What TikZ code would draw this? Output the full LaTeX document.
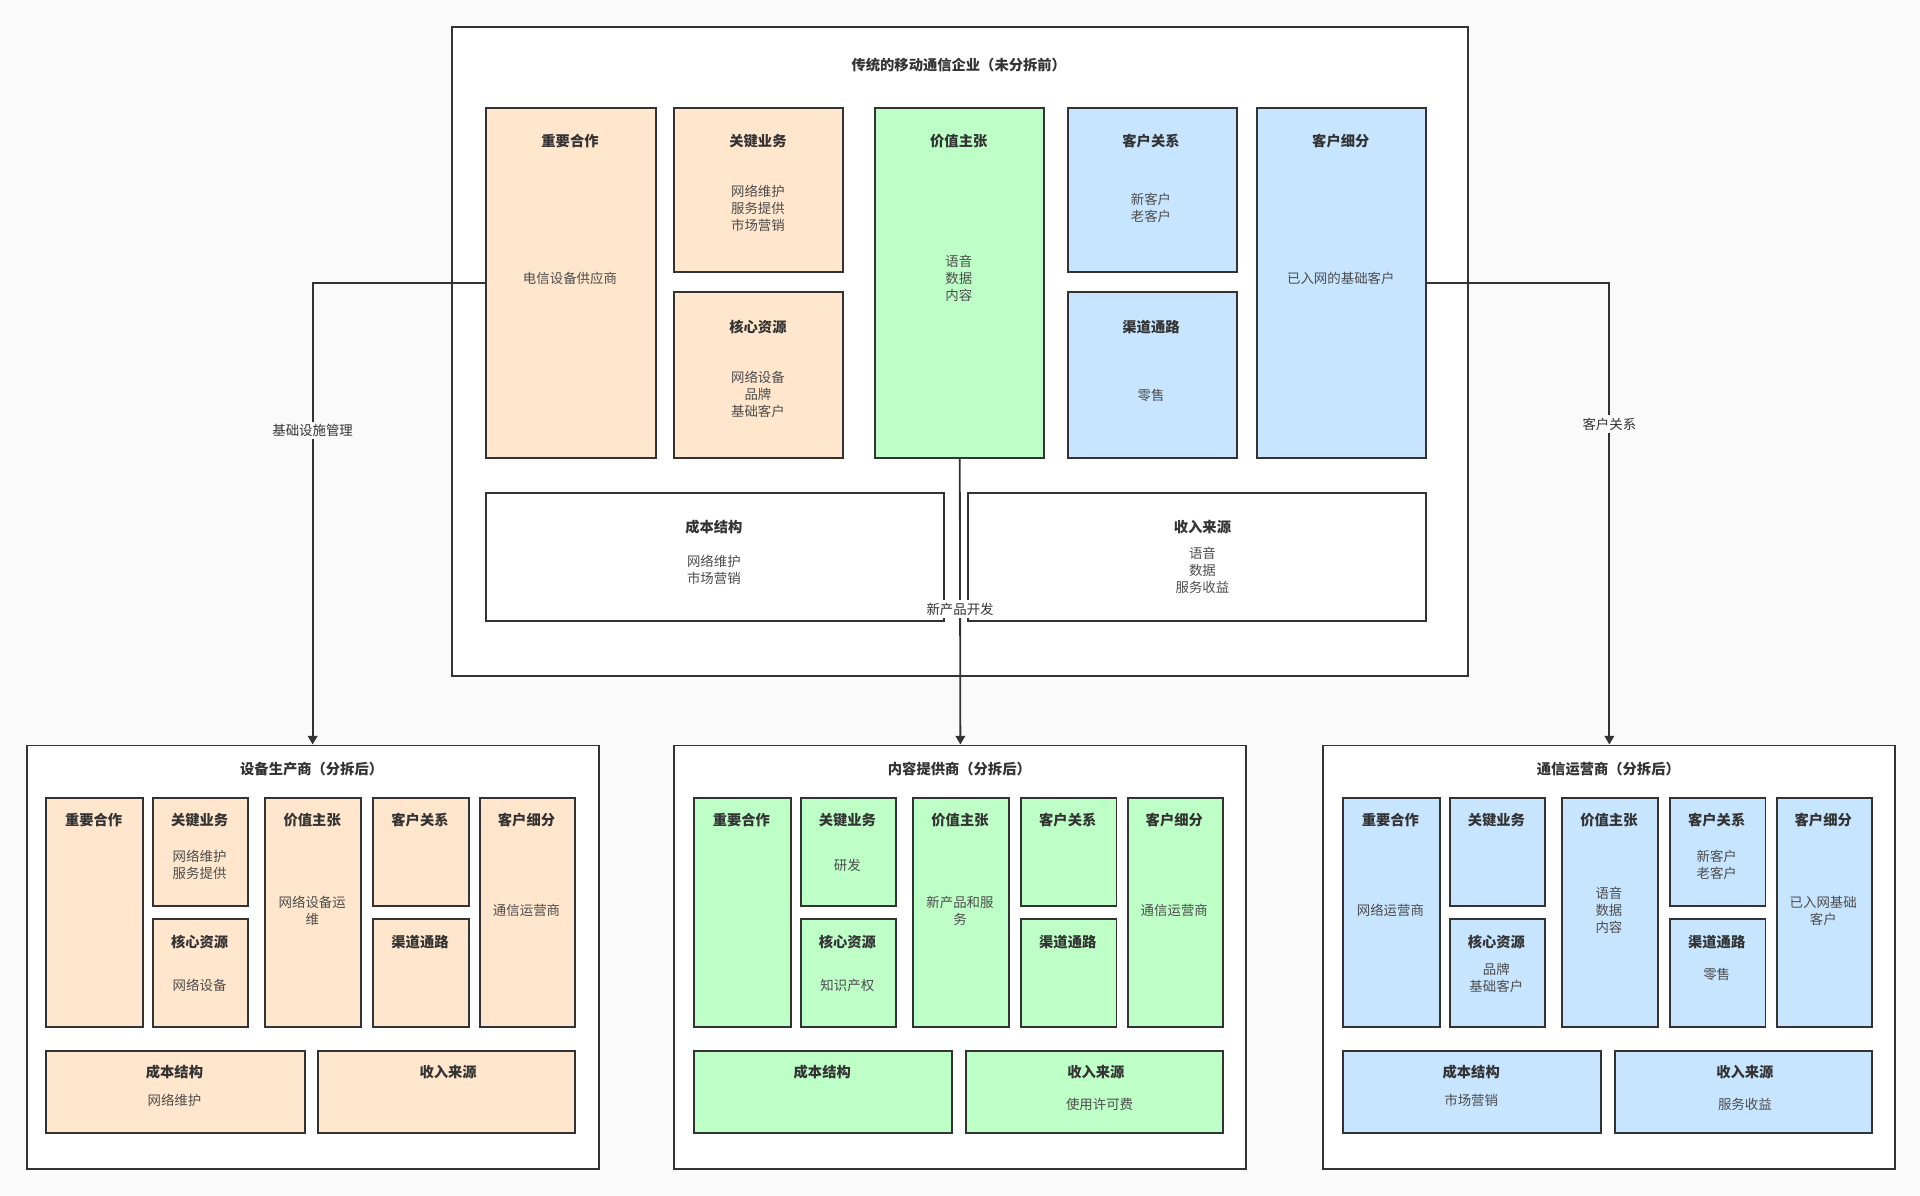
\documentclass[tikz,border=0pt]{standalone}
\usepackage{fontspec}
\setmainfont{Noto Sans CJK SC}
\usepackage{tikz}
\usetikzlibrary{arrows.meta}

\definecolor{orangefill}{HTML}{FFE6CC}
\definecolor{greenfill}{HTML}{BDFFC6}
\definecolor{bluefill}{HTML}{C7E5FF}
\definecolor{edge}{HTML}{333333}
\definecolor{paper}{HTML}{FAFAFA}
\definecolor{bodytext}{HTML}{4D4D4D}

% name, fill, x1, y1, x2, y2
\newcommand\bmcell[6]{%
  \node[cell, fill=#2, minimum width={((#5)-(#3))*0.025cm},
        minimum height={((#6)-(#4))*0.025cm}] (#1) at (#3,#4) {};}

\begin{document}
\begin{tikzpicture}[x=0.025cm, y=-0.025cm]
    \tikzstyle{cell} = [rectangle, draw=edge, line width=1.15pt, inner sep=0pt, anchor=north west]
    \tikzstyle{ttl} = [font=\fontsize{8.3}{10}\selectfont\bfseries, text=edge, inner sep=0pt]
    \tikzstyle{txt} = [font=\fontsize{7.8}{9.9}\selectfont, text=bodytext, align=center, inner sep=0pt]
    \tikzstyle{lbl} = [font=\fontsize{7.8}{9.9}\selectfont, text=edge, fill=paper, inner sep=1.5pt]
    \tikzstyle{link} = [draw=edge, line width=1.05pt, -{Triangle[length=5pt,width=5.5pt]}]

    \fill[paper] (0,0) rectangle (1568,976);
    \useasboundingbox (0,0) rectangle (1568,976);

    % before the split
    \bmcell{old}{white}{368}{21}{1198}{551}
    \node[ttl] at (783,53) {传统的移动通信企业（未分拆前）};
    \bmcell{tkp}{orangefill}{396}{87}{535}{373}
    \bmcell{tka}{orangefill}{550}{87}{688}{221}
    \bmcell{tkr}{orangefill}{550}{238}{688}{373}
    \bmcell{tvp}{greenfill}{714}{87}{852}{373}
    \bmcell{tcr}{bluefill}{871}{87}{1009}{221}
    \bmcell{tch}{bluefill}{871}{238}{1009}{373}
    \bmcell{tcs}{bluefill}{1026}{87}{1164}{373}
    \bmcell{tco}{white}{396}{402}{770}{506}
    \bmcell{tre}{white}{790}{402}{1164}{506}
    \foreach \x/\y/\t in {465.5/115/重要合作, 619/115/关键业务, 619/267/核心资源, 783/115/价值主张,
                          940/115/客户关系, 940/267/渠道通路, 1095/115/客户细分,
                          583/430.6/成本结构, 982/430.6/收入来源} {
        \node[ttl] at (\x,\y) {\t};
    }
    \node[txt] at (465.5,227.3) {电信设备供应商};
    \node[txt] at (619,170) {网络维护\\服务提供\\市场营销};
    \node[txt] at (619,322) {网络设备\\品牌\\基础客户};
    \node[txt] at (783,227.3) {语音\\数据\\内容};
    \node[txt] at (940,170) {新客户\\老客户};
    \node[txt] at (940,322.6) {零售};
    \node[txt] at (1095,227.3) {已入网的基础客户};
    \node[txt] at (583,465.5) {网络维护\\市场营销};
    \node[txt] at (982,465.5) {语音\\数据\\服务收益};

    % after the split
    \foreach \ox/\id/\fc/\ct in {21/eq/orangefill/设备生产商（分拆后）,
                                 550/cp/greenfill/内容提供商（分拆后）,
                                 1080/tc/bluefill/通信运营商（分拆后）} {
        \bmcell{\id}{white}{\ox}{608}{\ox+467}{954}
        \node[ttl] at (\ox+233.5,628) {\ct};
        \bmcell{\id kp}{\fc}{\ox+16}{651}{\ox+95}{838}
        \bmcell{\id ka}{\fc}{\ox+103}{651}{\ox+181}{739}
        \bmcell{\id kr}{\fc}{\ox+103}{750}{\ox+181}{838}
        \bmcell{\id vp}{\fc}{\ox+195}{651}{\ox+273}{838}
        \bmcell{\id cr}{\fc}{\ox+283}{651}{\ox+361}{739}
        \bmcell{\id ch}{\fc}{\ox+283}{750}{\ox+361}{838}
        \bmcell{\id cs}{\fc}{\ox+370}{651}{\ox+448}{838}
        \bmcell{\id co}{\fc}{\ox+16}{857.5}{\ox+227}{924.6}
        \bmcell{\id re}{\fc}{\ox+238}{857.5}{\ox+448}{924.6}
        \foreach \dx/\y/\t in {55.5/670/重要合作, 142/670/关键业务, 142/769/核心资源, 234/670/价值主张,
                               322/670/客户关系, 322/769/渠道通路, 409/670/客户细分,
                               121.5/875.5/成本结构, 345/875.5/收入来源} {
            \node[ttl] at (\ox+\dx,\y) {\t};
        }
    }
    \node[txt] at (163,706.3) {网络维护\\服务提供};
    \node[txt] at (163,805) {网络设备};
    \node[txt] at (255,743.8) {网络设备运\\维};
    \node[txt] at (430,743.7) {通信运营商};
    \node[txt] at (142.5,898.4) {网络维护};

    \node[txt] at (692,706.4) {研发};
    \node[txt] at (692,805) {知识产权};
    \node[txt] at (784,743.8) {新产品和服\\务};
    \node[txt] at (959,743.7) {通信运营商};
    \node[txt] at (898,901.6) {使用许可费};

    \node[txt] at (1135.5,743.7) {网络运营商};
    \node[txt] at (1222,798.3) {品牌\\基础客户};
    \node[txt] at (1314,743.7) {语音\\数据\\内容};
    \node[txt] at (1402,706.3) {新客户\\老客户};
    \node[txt] at (1402,795.5) {零售};
    \node[txt] at (1489,743.8) {已入网基础\\客户};
    \node[txt] at (1201.5,898.4) {市场营销};
    \node[txt] at (1425,901.6) {服务收益};

    % connectors
    \draw[link] (tkp.west) -| node[lbl, pos=0.66] {基础设施管理} (eq.north);
    \draw[link] (tvp.south) -- node[lbl, fill=white, pos=0.527] {新产品开发} (cp.north);
    \draw[link] (tcs.east) -| node[lbl, pos=0.653] {客户关系} (tc.north);
\end{tikzpicture}
\end{document}
